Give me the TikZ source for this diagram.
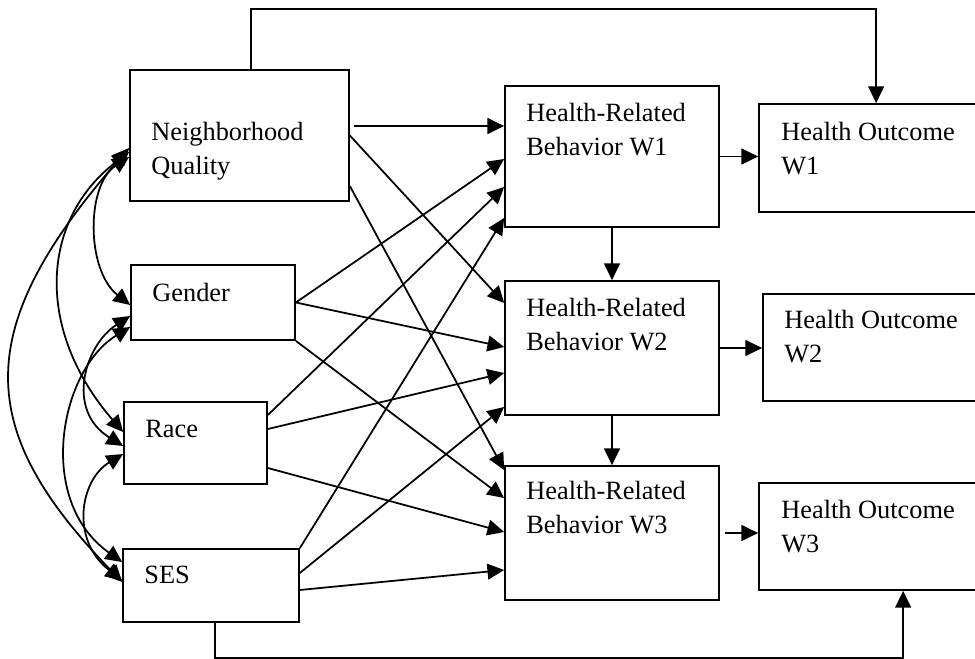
\documentclass[tikz,border=0pt]{standalone}
\usepackage{fontspec}
\setmainfont{Liberation Serif}
\usetikzlibrary{arrows.meta,calc}

\begin{document}
\begin{tikzpicture}[x=0.02cm,y=-0.02cm,
    box/.style={draw,line width=1pt,inner sep=0pt},
    lbl/.style={anchor=north west,inner sep=0pt,align=left,font=\fontsize{15}{19}\selectfont},
    arr/.style={line width=1pt,-{Triangle[length=9.5pt,width=9pt]}},
    cov/.style={line width=1pt,{Triangle[length=9.5pt,width=9pt]}-{Triangle[length=9.5pt,width=9pt]}}]
\useasboundingbox (0,0) rectangle (975,659);
% boxes
\node[box,minimum width=4.38cm,minimum height=2.62cm] (nq) at (239.5,135.5) {}; % Neighborhood
\node[box,minimum width=3.28cm,minimum height=1.50cm] (gender) at (213,302.5) {}; % Gender
\node[box,minimum width=2.86cm,minimum height=1.64cm] (race) at (195.5,443) {}; % Race
\node[box,minimum width=3.52cm,minimum height=1.46cm] (ses) at (211,585.5) {}; % SES
\node[box,minimum width=4.28cm,minimum height=2.82cm] (hrb1) at (612,156.5) {}; % Behavior.1
\node[box,minimum width=4.28cm,minimum height=2.68cm] (hrb2) at (612,348) {}; % Behavior.2
\node[box,minimum width=4.28cm,minimum height=2.68cm] (hrb3) at (612,533) {}; % Behavior.3
\node[box,minimum width=4.52cm,minimum height=2.16cm] (ho1) at (872,158) {}; % Outcome.1
\node[box,minimum width=4.44cm,minimum height=2.14cm] (ho2) at (874,347.5) {}; % Outcome.2
\node[box,minimum width=4.52cm,minimum height=2.14cm] (ho3) at (872,536.5) {}; % Outcome.3
% labels
\node[lbl] (nqlbl) at (151,122) {Neighborhood\\Quality};
\node[lbl] (genderlbl) at (152,283) {Gender};
\node[lbl] (racelbl) at (145,419.5) {Race};
\node[lbl] (seslbl) at (144,565.5) {SES};
\node[lbl] (hrb1lbl) at (526,103) {Health-Related\\Behavior W1};
\node[lbl] (hrb2lbl) at (526,298) {Health-Related\\Behavior W2};
\node[lbl] (hrb3lbl) at (526,481) {Health-Related\\Behavior W3};
\node[lbl] (ho1lbl) at (781,122) {Health Outcome\\W1};
\node[lbl] (ho2lbl) at (784,310) {Health Outcome\\W2};
\node[lbl] (ho3lbl) at (781,500) {Health Outcome\\W3};
% predictors -> behaviors
\draw[arr] ($(nq.east)+(4,-9.5)$) -- ($(hrb1.west)+(0,-30.5)$);
\draw[arr] (nq.east) -- ($(hrb2.west)+(0,-45)$);
\draw[arr] ($(nq.east)+(0,50.5)$) -- ($(hrb3.west)+(0,-63)$);
\draw[arr] (gender.east) -- ($(hrb1.west)+(0,2.5)$);
\draw[arr] (gender.east) -- ($(hrb2.west)+(0,-1)$);
\draw[arr] (gender.south east) -- ($(hrb3.west)+(0,-35)$);
\draw[arr] ($(race.east)+(0,-28)$) -- ($(hrb1.west)+(0,30.5)$);
\draw[arr] ($(race.east)+(0,-14)$) -- ($(hrb2.west)+(0,25)$);
\draw[arr] ($(race.east)+(0,25)$) -- ($(hrb3.west)+(0,-1)$);
\draw[arr] (ses.north east) -- ($(hrb1.west)+(0,61.5)$);
\draw[arr] ($(ses.east)+(0,-12.5)$) -- ($(hrb2.west)+(0,59)$);
\draw[arr] ($(ses.east)+(0,4.5)$) -- ($(hrb3.west)+(0,37)$);
% behaviors and outcomes
\draw[arr] (hrb1.south) -- (hrb2.north);
\draw[arr] (hrb2.south) -- (hrb3.north);
\draw[arr] (hrb1.east) -- (hrb1.east -| ho1.west);
\draw[arr] (hrb2.east) -- (hrb2.east -| ho2.west);
\draw[arr] ($(hrb3.east)+(5,0)$) -- (hrb3.east -| ho3.west);
% direct paths
\draw[arr,line width=0.8pt] ($(nq.north west)+(122,0)$) -- ++(0,-60) -| ($(ho1.north west)+(118,0)$);
\draw[arr,line width=0.8pt] ($(ses.south west)+(93,0)$) -- ++(0,35) -| ($(ho3.south west)+(145,0)$);
% covariances
\draw[cov] ($(nq.west)+(0,21.5)$) .. controls (86,185) and (86,270) .. ($(gender.west)+(0,2.5)$);
\draw[cov] ($(nq.west)+(0,16.5)$) .. controls (40,220) and (35,330) .. ($(race.west)+(0,-11)$);
\draw[cov] ($(nq.west)+(0,12.5)$) .. controls (-30,330) and (-25,430) .. ($(ses.west)+(0,-3.5)$);
\draw[cov] ($(gender.west)+(0,13.5)$) .. controls (85,345) and (65,410) .. ($(race.west)+(0,3)$);
\draw[cov] ($(gender.west)+(0,24.5)$) .. controls (60,370) and (35,500) .. ($(ses.west)+(0,-23.5)$);
\draw[cov] ($(race.west)+(0,11)$) .. controls (80,480) and (70,540) .. ($(ses.west)+(0,-5.5)$);
\end{tikzpicture}
\end{document}
